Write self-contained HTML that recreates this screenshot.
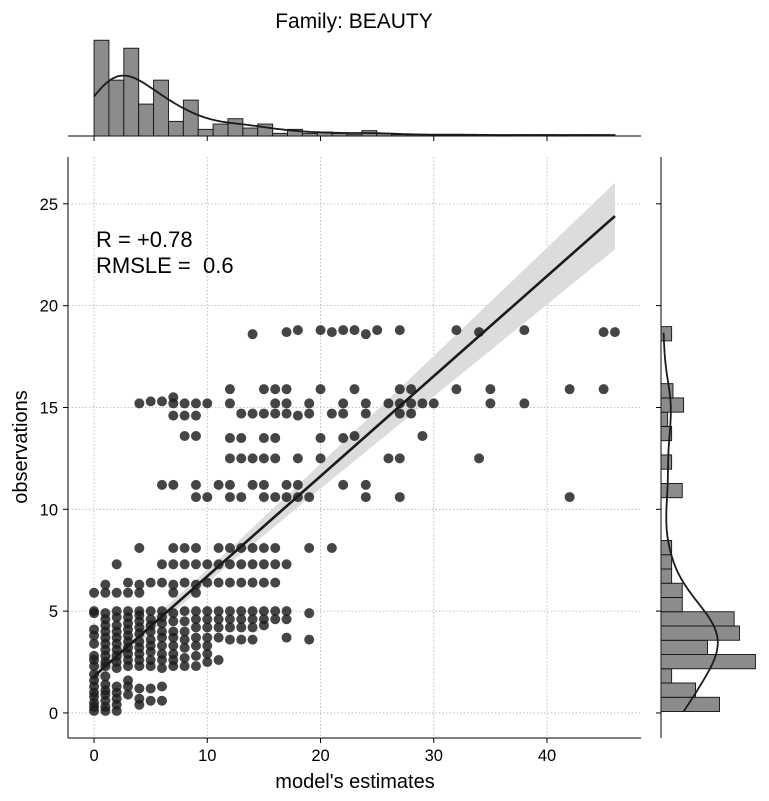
<!DOCTYPE html>
<html><head><meta charset="utf-8"><style>
html,body{margin:0;padding:0;background:#fff;}
svg{display:block;font-family:"Liberation Sans","DejaVu Sans",sans-serif;}
</style></head><body>
<svg id="chart" width="769" height="801" viewBox="0 0 769 801" xmlns="http://www.w3.org/2000/svg">
<text x="354" y="28" font-size="21" text-anchor="middle" fill="#000">Family: BEAUTY</text>
<g id="grid"></g>
<g id="band"></g>
<g id="points"></g>
<g id="reg"></g>
<g id="axes"></g>
<g id="tophist"></g>
<g id="righthist"></g>
<text x="96" y="247" font-size="22" fill="#000">R = +0.78</text>
<text x="96" y="273" font-size="22" fill="#000" xml:space="preserve">RMSLE =  0.6</text>
<text x="355" y="788" font-size="20" text-anchor="middle" fill="#000">model's estimates</text>
<text transform="translate(27,447) rotate(-90)" font-size="20" text-anchor="middle" fill="#000">observations</text>
</svg>
<script>
const xTicks=[0,10,20,30,40];
const yTicks=[0,5,10,15,20,25];
const colX=[0,1,2,3,4,5,6,7,8,9,10,11,12,13,14,15,16,17,18,19,20,21,22,23,24,25,26,27,28,29,30,32,34,35,38,42,45,46];
const colY=[
[0.1,0.3,0.5,0.8,1.0,1.3,1.6,1.9,2.3,2.6,2.8,3.4,3.8,4.1,4.9,5.0,5.9],
[0.1,0.3,0.6,0.9,1.1,1.4,1.8,2.3,2.5,2.8,3.1,3.4,3.7,4.0,4.3,4.6,4.9,5.9,6.3],
[0.1,0.4,0.7,1.0,1.3,2.2,2.5,2.8,3.1,3.4,3.7,4.0,4.3,4.7,5.0,5.9,7.3],
[0.9,1.3,1.6,2.3,2.6,2.9,3.2,3.5,3.8,4.1,4.4,4.7,5.0,5.9,6.4],
[0.4,0.7,1.2,2.3,2.6,2.9,3.2,3.5,3.9,4.2,4.5,4.8,5.0,5.9,6.3,8.1,15.2],
[0.6,1.2,2.3,2.6,3.0,3.3,3.6,4.0,4.3,4.6,5.0,6.4,15.3],
[0.6,1.3,2.2,2.6,2.9,3.3,3.7,4.0,4.4,4.7,5.0,6.4,7.3,11.2,15.3],
[2.3,2.6,2.9,3.3,3.7,4.0,4.5,4.9,5.9,6.3,7.3,8.1,11.2,14.6,15.2,15.5],
[2.3,2.7,3.2,3.6,4.0,4.5,5.0,6.4,7.3,8.1,13.6,14.6,15.2],
[2.3,2.8,3.3,3.7,4.2,4.6,5.0,5.9,6.3,7.3,8.1,10.6,11.2,13.6,14.6,15.2],
[2.5,2.9,3.3,3.7,4.2,4.6,5.0,6.4,7.3,10.6,15.2],
[2.6,3.7,4.2,4.6,5.0,6.4,7.3,8.1,11.2],
[3.6,4.2,4.6,5.0,6.4,7.3,8.1,10.6,11.2,12.5,13.5,15.2,15.9],
[3.6,4.2,4.6,5.0,6.4,7.3,8.1,10.6,12.5,13.5,14.7],
[3.6,4.2,4.6,5.0,6.4,7.3,8.1,11.2,12.5,14.7,18.6],
[4.3,4.6,5.0,6.4,7.3,8.1,10.6,11.2,12.5,13.5,14.7,15.9],
[4.6,5.0,6.4,7.3,8.1,10.6,12.5,13.5,14.7,15.2,15.9],
[3.7,4.6,5.0,7.3,10.6,11.2,14.7,15.2,15.9,18.7],
[10.6,11.2,12.5,14.6,18.8],
[3.6,4.9,8.1,10.6,14.7,15.2],
[12.5,13.5,15.9,18.8],
[8.1,14.7,18.7],
[11.2,13.5,14.7,15.2,18.8],
[13.6,15.9,18.8],
[10.6,11.2,14.7,15.2,18.6],
[18.8],
[12.5,15.2],
[10.6,12.5,14.7,15.2,15.9,18.8],
[14.7,15.2,15.9],
[13.6,15.2],
[15.2],
[15.9,18.8],
[12.5,18.7],
[15.2,15.9],
[15.2,18.8],
[10.6,15.9],
[15.9,18.7],
[18.7]];
const regX=[0,46];
const regY=[1.8,24.4];
const topCounts=[72,42,66,24,42,11,27,5,9,13,6,9,2,5,2,3,2,1,4,2,1,1,1,1,1,1,1,0,1,1,1,0,1,1,1];
const rightCounts=[44,26,8,71,35,59,55,16,16,8,8,8,0,0,0,16,0,8,0,8,5,17,9,0,0,0,8];

const NS="http://www.w3.org/2000/svg";
const X0=68,X1=641,Y0=157,Y1=738;
const xmin=-2.3,xmax=48.3,ymin=-1.23,ymax=27.3;
function sx(v){return X0+(v-xmin)/(xmax-xmin)*(X1-X0);}
function sy(v){return Y1-(v-ymin)/(ymax-ymin)*(Y1-Y0);}
function mk(tag,attrs,parent){const e=document.createElementNS(NS,tag);for(const k in attrs)e.setAttribute(k,attrs[k]);parent.appendChild(e);return e;}
const grid=document.getElementById('grid'),axes=document.getElementById('axes');
xTicks.forEach(t=>{
  const l=mk('line',{x1:sx(t),x2:sx(t),y1:Y0,y2:Y1,stroke:'#b0b0b0','stroke-width':0.8,'stroke-dasharray':'1.5,2'},grid);
  
  
  const tk=mk('line',{x1:sx(t),x2:sx(t),y1:Y1,y2:Y1+5,stroke:'#000','stroke-width':1},axes);
  
  
  const tx=mk('text',{x:sx(t),y:Y1+23,'font-size':16.5,'text-anchor':'middle',fill:'#000'},axes);
  tx.textContent=t;
  
  
  const tt=mk('line',{x1:sx(t),x2:sx(t),y1:136,y2:141,stroke:'#000','stroke-width':1},axes);
  
  
});
yTicks.forEach(t=>{
  const l=mk('line',{x1:X0,x2:X1,y1:sy(t),y2:sy(t),stroke:'#b0b0b0','stroke-width':0.8,'stroke-dasharray':'1.5,2'},grid);
  
  
  const tk=mk('line',{x1:X0-5,x2:X0,y1:sy(t),y2:sy(t),stroke:'#000','stroke-width':1},axes);
  
  
  const tx=mk('text',{x:X0-10,y:sy(t)+6,'font-size':16.5,'text-anchor':'end',fill:'#000'},axes);
  tx.textContent=t;
  
  
  const rt=mk('line',{x1:656,x2:661,y1:sy(t),y2:sy(t),stroke:'#000','stroke-width':1},axes);
  
  
});
let sp=mk('line',{x1:X0,x2:X0,y1:Y0,y2:Y1,stroke:'#000','stroke-width':1},axes);


sp=mk('line',{x1:X0,x2:X1,y1:Y1,y2:Y1,stroke:'#000','stroke-width':1},axes);


sp=mk('line',{x1:X0,x2:X1,y1:136,y2:136,stroke:'#000','stroke-width':1},axes);


sp=mk('line',{x1:661,x2:661,y1:Y0,y2:Y1,stroke:'#000','stroke-width':1},axes);



const band=document.getElementById('band');
const slope=(regY[1]-regY[0])/(regX[1]-regX[0]);
function fit(x){return regY[0]+slope*(x-regX[0]);}
function hw(x){return Math.sqrt(0.09+(x-7)*(x-7)*0.0017);}
let up=[],dn=[];
for(let i=0;i<=50;i++){const x=regX[0]+(regX[1]-regX[0])*i/50;up.push(sx(x)+','+sy(fit(x)+hw(x)));dn.unshift(sx(x)+','+sy(fit(x)-hw(x)));}
const bp=mk('polygon',{points:up.concat(dn).join(' '),fill:'#dcdcdc'},band);



const pts=document.getElementById('points');
colX.forEach((x,i)=>{colY[i].forEach(y=>{
  const c=mk('circle',{cx:sx(x),cy:sy(y),r:5,fill:'#1c1c1c','fill-opacity':0.82},pts);
  
  
});});

const rl=mk('line',{x1:sx(regX[0]),y1:sy(regY[0]),x2:sx(regX[1]),y2:sy(regY[1]),stroke:'#1a1a1a','stroke-width':2.6},document.getElementById('reg'));



const th=document.getElementById('tophist');
const tbw=46/topCounts.length, pxc=1.33;
topCounts.forEach((c,i)=>{
  if(!c)return;
  const r=mk('rect',{x:sx(i*tbw),y:136-c*pxc,width:sx((i+1)*tbw)-sx(i*tbw),height:c*pxc,fill:'#8c8c8c',stroke:'#111','stroke-width':0.9},th);
  
  
});
function kde(counts,bw,start,h,v){let s=0;counts.forEach((c,i)=>{const m=start+(i+0.5)*bw;s+=c*Math.exp(-0.5*((v-m)/h)**2)/(h*Math.sqrt(2*Math.PI));});return s*bw;}
let tp=[];
for(let i=0;i<=200;i++){const v=46*i/200;tp.push((i?'L':'M')+sx(v).toFixed(1)+','+(136-kde(topCounts,tbw,0,2.0,v)*pxc).toFixed(1));}
const tk=mk('path',{d:tp.join(''),fill:'none',stroke:'#1a1a1a','stroke-width':1.8},th);



const rh=document.getElementById('righthist');
const rbw=0.7,rs=0.07;
rightCounts.forEach((c,i)=>{
  if(!c)return;
  const r=mk('rect',{x:661,y:sy(rs+(i+1)*rbw),width:c*pxc,height:sy(rs+i*rbw)-sy(rs+(i+1)*rbw),fill:'#8c8c8c',stroke:'#111','stroke-width':0.9},rh);
  
  
});
let rp=[];
const ytop=rs+rightCounts.length*rbw;
for(let i=0;i<=200;i++){const v=0.07+(ytop-0.07-0.3)*i/200;rp.push((i?'L':'M')+(661+kde(rightCounts,rbw,rs,1.35,v)*pxc).toFixed(1)+','+sy(v).toFixed(1));}
const rk=mk('path',{d:rp.join(''),fill:'none',stroke:'#1a1a1a','stroke-width':1.8},rh);


</script>
</body></html>
